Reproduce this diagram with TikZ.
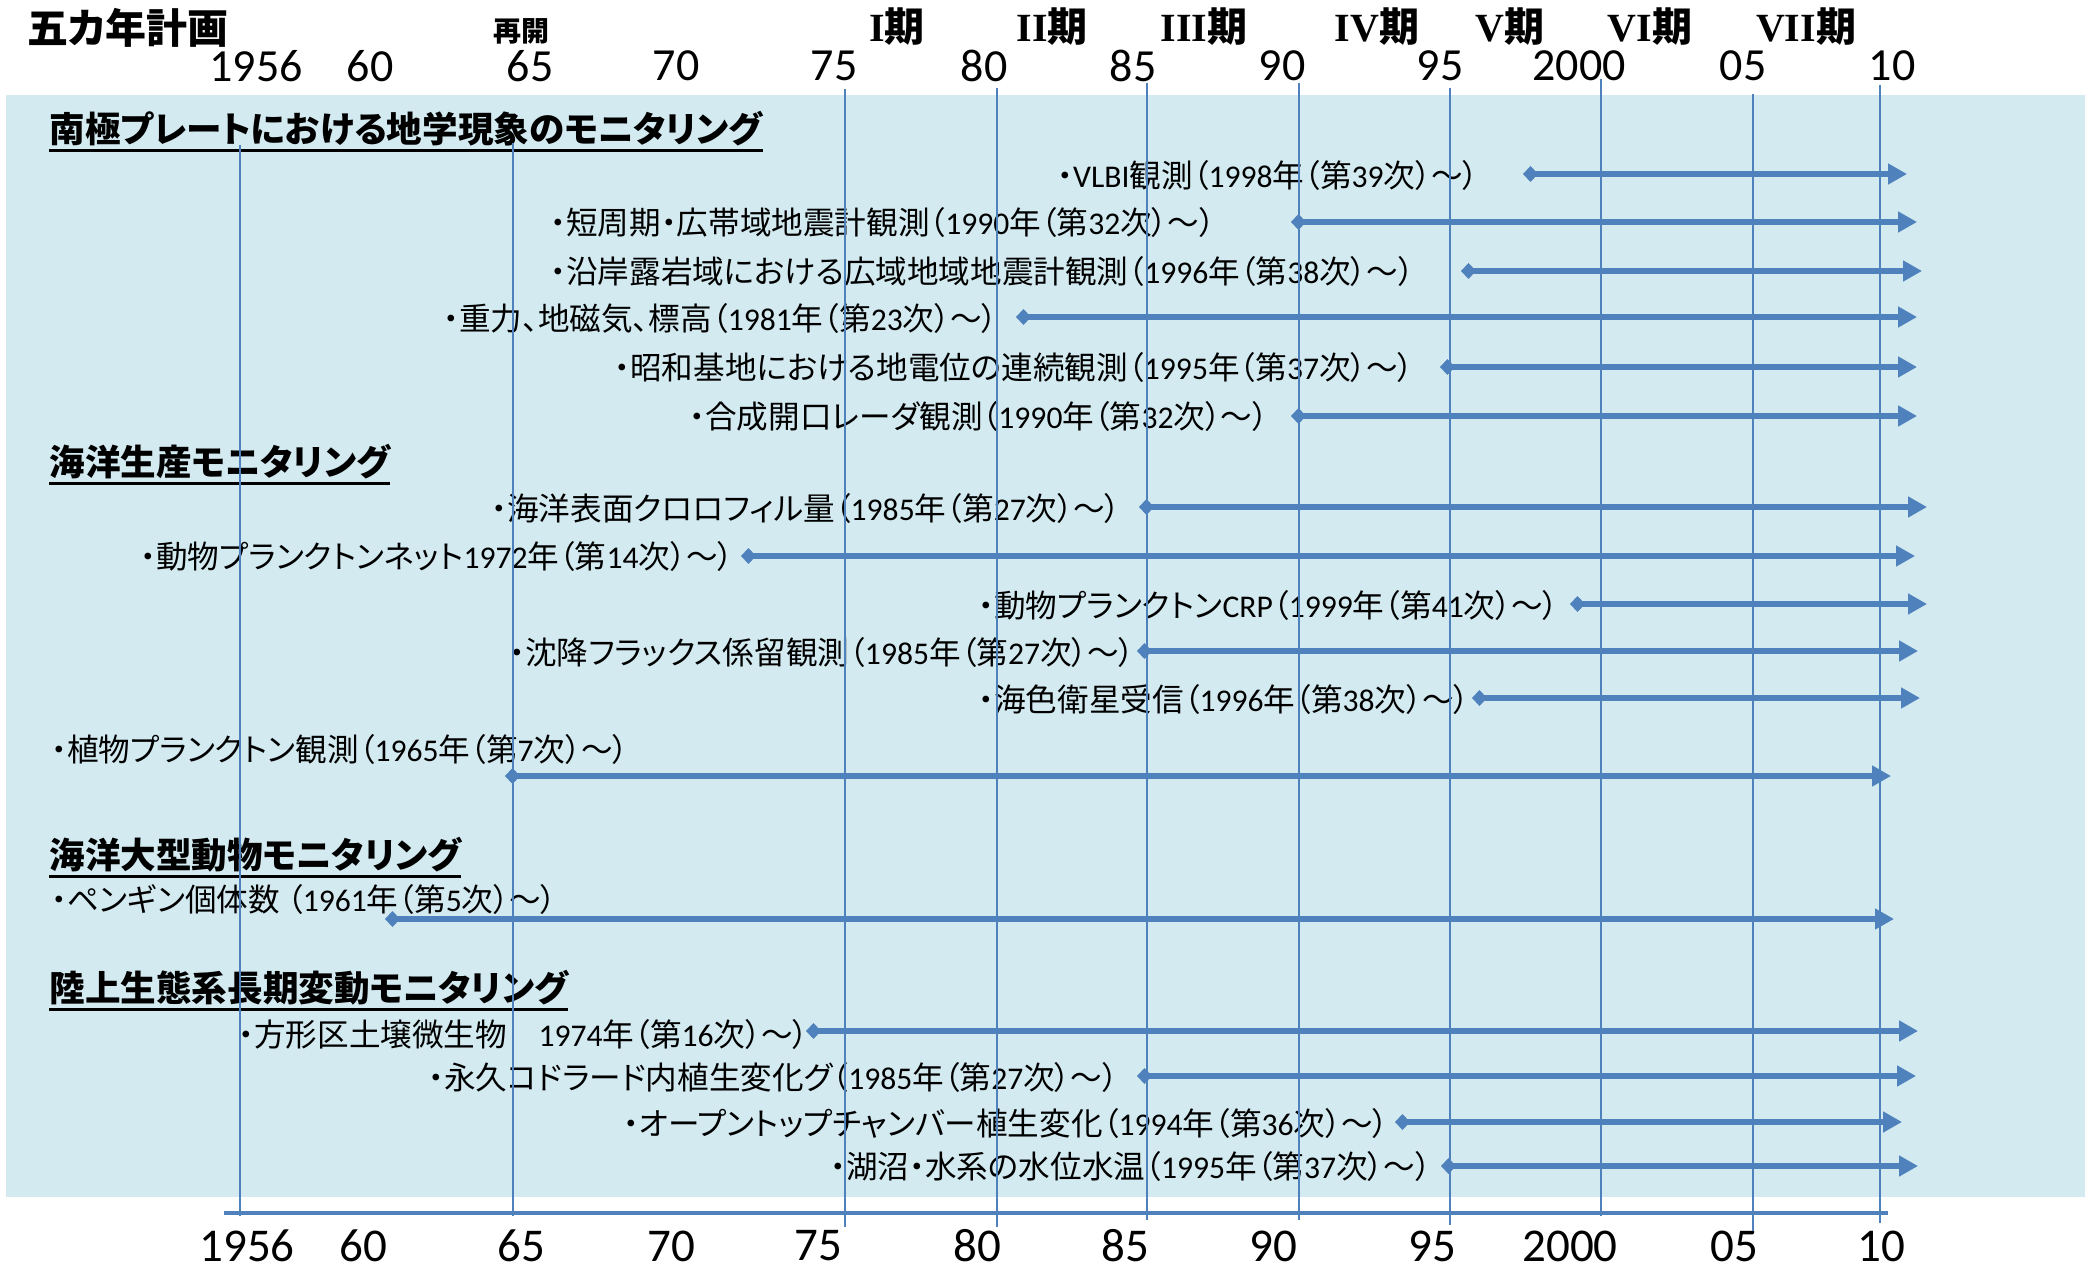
\documentclass[tikz,border=0pt]{standalone}
\usepackage{fontspec}
\setmainfont{Carlito}
\newfontfamily\jp[RawFeature=+palt]{Noto Sans CJK JP}
\newfontfamily\rmn{Liberation Serif}
\usetikzlibrary{arrows.meta,calc}
\XeTeXinterchartokenstate=1
\newXeTeXintercharclass\cjkcls
\makeatletter
\count@="3000
\loop\ifnum\count@<"A000 \XeTeXcharclass\count@=\cjkcls \advance\count@ 1 \repeat
\count@="FF00
\loop\ifnum\count@<"FFF0 \XeTeXcharclass\count@=\cjkcls \advance\count@ 1 \repeat
\makeatother
\XeTeXinterchartoks 0 \cjkcls = {\begingroup\jp}
\XeTeXinterchartoks \cjkcls 0 = {\endgroup}
\XeTeXinterchartoks 4095 \cjkcls = {\begingroup\jp}
\XeTeXinterchartoks \cjkcls 4095 = {\endgroup}
\definecolor{bgblue}{RGB}{210,234,240}
\definecolor{lineblue}{RGB}{79,129,189}
\tikzset{
  rowtext/.style={anchor=west,inner sep=0pt,font=\fontsize{15.8}{18}\selectfont},
  sectitle/.style={anchor=west,inner sep=0pt,font=\fontsize{17.8}{20}\selectfont\bfseries},
  topyear/.style={inner sep=0pt,font=\fontsize{23}{26}\selectfont},
  botyear/.style={inner sep=0pt,font=\fontsize{23.5}{26}\selectfont},
  period/.style={inner sep=0pt,font=\fontsize{20}{22}\selectfont\bfseries},
  gridline/.style={draw=lineblue,line width=0.8pt},
  axisline/.style={draw=lineblue,line width=1.8pt},
  spanarrow/.style={draw=lineblue,line width=3pt,{Diamond[length=7.5pt,width=8pt]}-{Triangle[length=9.5pt,width=10pt]}},
  uline/.style={draw=black,line width=1.4pt},
}
\begin{document}
\begin{tikzpicture}[x=0.5pt,y=-0.5pt]
\useasboundingbox (0,0) rectangle (2089,1273);
\fill[bgblue] (6,95) rectangle (2085,1197);

% header
\node[inner sep=0pt,font=\fontsize{20.5}{23}\selectfont\bfseries] (plan) at (128,28) {五カ年計画};
\node[inner sep=0pt,font=\fontsize{14}{16}\selectfont\bfseries] (resume) at (521,31) {再開};
\foreach \n/\x/\t in {p1/897/I, p2/1052/II, p3/1204/III, p4/1377/IV, p5/1510/V, p6/1650/VI, p7/1806/VII}{
  \node[period] (\n) at (\x,27) {{\rmn\bfseries \t}期};
}
\foreach \n/\x/\t in {ty56/256/1956, ty60/370/60, ty65/530/65, ty70/676/70, ty75/834/75, ty80/984/80, ty85/1133/85, ty90/1282/90, ty95/1440/95, ty00/1579/2000, ty05/1743/05, ty10/1892/10}{
  \node[topyear] (\n) at (\x,66) {\t};
}
\foreach \n/\x/\t in {by56/247/1956, by60/363/60, by65/521/65, by70/671/70, by75/818/75, by80/977/80, by85/1125/85, by90/1273/90, by95/1432/95, by00/1570/2000, by05/1734/05, by10/1881/10}{
  \node[botyear] (\n) at (\x,1246) {\t};
}

% section titles
\node[sectitle] (s1) at (49,129) {南極プレートにおける地学現象のモニタリング};
\node[sectitle] (s2) at (49,462) {海洋生産モニタリング};
\node[sectitle] (s3) at (49,855) {海洋大型動物モニタリング};
\node[sectitle] (s4) at (49,988) {陸上生態系長期変動モニタリング};
\foreach \s in {s1,s2,s3,s4}{
  \draw[uline] ($(\s.south west)+(0,4)$) -- ($(\s.south east)+(0,4)$);
}

% row texts
\node[rowtext] (t1) at (1057,175) {・VLBI観測（1998年（第39次）～）};
\node[rowtext] (t2) at (550,222) {・短周期・広帯域地震計観測（1990年（第32次）～）};
\node[rowtext] (t3) at (550,271) {・沿岸露岩域における広域地域地震計観測（1996年（第38次）～）};
\node[rowtext] (t4) at (443,318) {・重力、地磁気、標高（1981年（第23次）～）};
\node[rowtext] (t5) at (614,367) {・昭和基地における地電位の連続観測（1995年（第37次）～）};
\node[rowtext] (t6) at (689,416) {・合成開口レーダ観測（1990年（第32次）～）};
\node[rowtext] (t7) at (491,508) {・海洋表面クロロフィル量（1985年（第27次）～）};
\node[rowtext] (t8) at (140,556) {・動物プランクトンネット1972年（第14次）～）};
\node[rowtext] (t9) at (978,605) {・動物プランクトンCRP（1999年（第41次）～）};
\node[rowtext] (t10) at (509,652) {・沈降フラックス係留観測（1985年（第27次）～）};
\node[rowtext] (t11) at (978,699) {・海色衛星受信（1996年（第38次）～）};
\node[rowtext] (t12) at (51,749) {・植物プランクトン観測（1965年（第7次）～）};
\node[rowtext] (t13) at (51,899) {・ペンギン個体数 （1961年（第5次）～）};
\node[rowtext] (t14) at (238,1034) {・方形区土壌微生物　1974年（第16次）～）};
\node[rowtext] (t15) at (428,1077) {・永久コドラード内植生変化グ（1985年（第27次）～）};
\node[rowtext] (t16) at (623,1123) {・オープントップチャンバー植生変化（1994年（第36次）～）};
\node[rowtext] (t17) at (830,1166) {・湖沼・水系の水位水温（1995年（第37次）～）};

% grid lines
\foreach \n/\x/\ya/\yb in {g56/240/145/1216, g65/513/143/1216, g75/845/89/1227, g80/997/88/1227, g85/1147/83/1220, g90/1299/83/1220, g95/1450/88/1225, g00/1601/79/1216, g05/1753/94/1231, g10/1880/85/1223}{
  \coordinate (\n-top) at (\x,\ya);
  \coordinate (\n-bot) at (\x,\yb);
  \draw[gridline] (\n-top) -- (\n-bot);
}
\coordinate (axL) at (224,1213);
\coordinate (axR) at (1888,1213);
\draw[axisline] (axL) -- (axR);

% span arrows
\foreach \n/\xa/\xb/\y in {1/1523/1907/174, 2/1291/1917/222, 3/1461/1922/271, 4/1016/1917/317, 5/1440/1917/367, 6/1291/1917/416, 7/1139/1927/507, 8/741/1915/556, 9/1570/1927/604, 10/1137/1918/651, 11/1472/1920/698, 12/505/1891/776, 13/385/1894/919, 14/806/1918/1031, 15/1137/1916/1076, 16/1395/1902/1122, 17/1441/1918/1166}{
  \coordinate (a\n s) at (\xa,\y);
  \coordinate (a\n e) at (\xb,\y);
  \draw[spanarrow] (a\n s) -- (a\n e);
}
\end{tikzpicture}
\end{document}
